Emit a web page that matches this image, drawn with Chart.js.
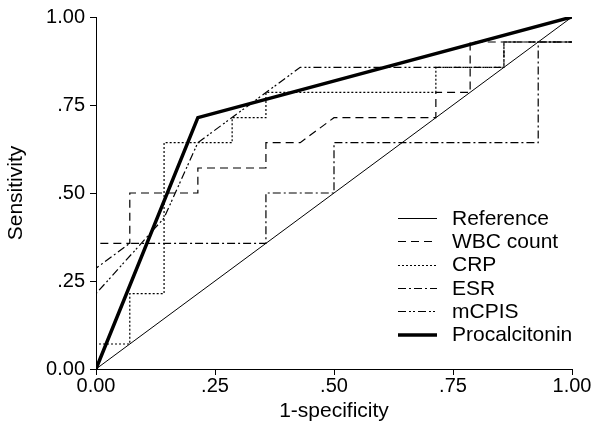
<!DOCTYPE html>
<html>
<head>
<meta charset="utf-8">
<script src="https://cdn.jsdelivr.net/npm/chart.js@4.4.1/dist/chart.umd.min.js"></script>
<style>
  body { margin: 0; background: #fff; }
  #wrap { width: 593px; height: 439px; }
</style>
</head>
<body>
<div id="wrap"><canvas id="roc" width="593" height="439"></canvas></div>
<script>
// ROC curves (14 positives / 14 negatives -> steps of 1/14)
const referenceX = [0, 1];
const referenceY = [0, 1];

const wbcX = [0, 0, 0.071, 0.071, 0.214, 0.214, 0.357, 0.357, 0.429, 0.5, 0.714, 0.714, 0.786, 0.786, 1];
const wbcY = [0, 0.357, 0.357, 0.5, 0.5, 0.571, 0.571, 0.643, 0.643, 0.714, 0.714, 0.786, 0.786, 0.929, 0.929];

const crpX = [0, 0, 0.071, 0.071, 0.143, 0.143, 0.286, 0.286, 0.357, 0.357, 0.714, 0.714, 0.857, 0.857, 1];
const crpY = [0, 0.071, 0.071, 0.214, 0.214, 0.643, 0.643, 0.714, 0.714, 0.786, 0.786, 0.857, 0.857, 0.929, 0.929];

const esrX = [0, 0, 0.071, 0.357, 0.357, 0.5, 0.5, 0.929, 0.929, 1];
const esrY = [0, 0.286, 0.357, 0.357, 0.5, 0.5, 0.643, 0.643, 0.929, 0.929];

const mcpisX = [0, 0, 0.143, 0.214, 0.429, 0.857, 0.857, 1];
const mcpisY = [0, 0.214, 0.429, 0.643, 0.857, 0.857, 0.929, 0.929];

const pctX = [0, 0.214, 1];
const pctY = [0, 0.714, 1];

const tickLabels = ['0.00', '.25', '.50', '.75', '1.00'];
const tickValues = [0, 0.25, 0.5, 0.75, 1];

const FONT = '"Liberation Sans", Arial, sans-serif';

function toPoints(xs, ys) {
  return xs.map((x, i) => ({ x: x, y: ys[i] }));
}

function tickText(value) {
  const i = tickValues.findIndex((t) => Math.abs(t - value) < 1e-9);
  return i >= 0 ? tickLabels[i] : '';
}

function series(label, xs, ys, width, dash) {
  return {
    label: label,
    data: toPoints(xs, ys),
    showLine: true,
    borderColor: '#000',
    borderWidth: width,
    borderDash: dash,
    pointRadius: 0,
    fill: false,
    tension: 0
  };
}

// legend drawn inside the plot, lower right, with line samples
const lineLegend = {
  id: 'lineLegend',
  afterDatasetsDraw(chart) {
    const ctx = chart.ctx;
    const x0 = 398, x1 = 437, tx = 452;
    let y = 218;
    ctx.save();
    ctx.font = '21px ' + FONT;
    ctx.textBaseline = 'middle';
    ctx.fillStyle = '#000';
    chart.data.datasets.forEach((ds) => {
      const ly = Math.round(y) + (ds.borderWidth < 2 ? 0.5 : 0);
      ctx.strokeStyle = '#000';
      ctx.lineWidth = ds.borderWidth;
      ctx.setLineDash(ds.borderDash || []);
      ctx.beginPath();
      ctx.moveTo(x0, ly);
      ctx.lineTo(x1, ly);
      ctx.stroke();
      ctx.setLineDash([]);
      ctx.fillText(ds.label, tx, y + 1);
      y += 23.3;
    });
    ctx.restore();
  }
};

function drawChart() {
  const ctx = document.getElementById('roc').getContext('2d');
  new Chart(ctx, {
    type: 'scatter',
    data: {
      datasets: [
        series('Reference', referenceX, referenceY, 1, []),
        series('WBC count', wbcX, wbcY, 1.2, [8, 5]),
        series('CRP', crpX, crpY, 1.2, [2, 2]),
        series('ESR', esrX, esrY, 1.2, [8, 3, 2, 3]),
        series('mCPIS', mcpisX, mcpisY, 1.2, [8, 3, 2, 2, 2, 3]),
        series('Procalcitonin', pctX, pctY, 3.5, [])
      ]
    },
    options: {
      responsive: false,
      animation: false,
      layout: { padding: { top: 17, right: 21, left: 0, bottom: 0 } },
      plugins: {
        legend: { display: false },
        tooltip: { enabled: false }
      },
      scales: {
        x: {
          type: 'linear',
          min: 0,
          max: 1,
          afterBuildTicks: (s) => { s.ticks = tickValues.map((v) => ({ value: v })); },
          afterFit: (s) => { s.height = 70; },
          ticks: {
            callback: tickText,
            color: '#000',
            font: { family: FONT, size: 20 },
            padding: -1,
            maxRotation: 0
          },
          grid: { drawOnChartArea: false, tickLength: 6, color: '#000' },
          border: { display: true, color: '#000', width: 1 },
          title: {
            display: true,
            text: '1-specificity',
            color: '#000',
            font: { family: FONT, size: 21 },
            padding: { top: 0, bottom: 15 }
          }
        },
        y: {
          type: 'linear',
          min: 0,
          max: 1,
          afterBuildTicks: (s) => { s.ticks = tickValues.map((v) => ({ value: v })); },
          afterFit: (s) => { s.width = 96; },
          ticks: {
            callback: tickText,
            color: '#000',
            font: { family: FONT, size: 20 },
            padding: 5
          },
          grid: { drawOnChartArea: false, tickLength: 6, color: '#000' },
          border: { display: true, color: '#000', width: 1 },
          title: {
            display: true,
            text: 'Sensitivity',
            color: '#000',
            font: { family: FONT, size: 21 },
            padding: { top: 4, bottom: 0 }
          }
        }
      }
    },
    plugins: [lineLegend]
  });
}

document.addEventListener('DOMContentLoaded', () => {
  drawChart();
});
</script>
</body>
</html>
